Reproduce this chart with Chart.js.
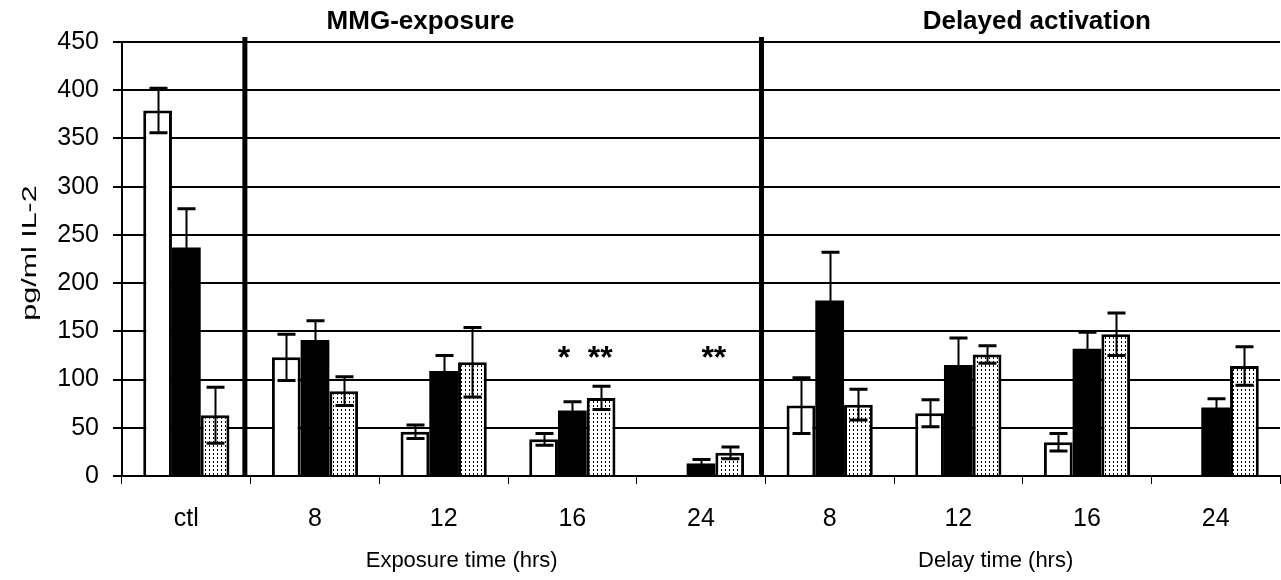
<!DOCTYPE html>
<html>
<head>
<meta charset="utf-8">
<script src="https://cdn.jsdelivr.net/npm/chart.js@4.4.1/dist/chart.umd.min.js"></script>
<style>
  html, body { margin: 0; padding: 0; background: #fff; }
  #wrap { width: 1281px; height: 580px; }
</style>
</head>
<body>
<div id="wrap"><canvas id="il2Chart" width="1281" height="580"></canvas></div>
<script>
// ===== DATA =====
const categories = ["ctl", "8", "12", "16", "24", "8", "12", "16", "24"]
const whiteVals  = [379, 123, 46, 38, null, 73, 65, 35, null]
const whiteErr   = [23, 24, 7, 6, 0, 29, 14, 9, 0]
const blackVals  = [237, 141, 109, 68, 13, 182, 115, 132, 71]
const blackErr   = [40, 20, 16, 9, 4, 50, 28, 17, 9]
const dotVals    = [63, 88, 118, 81, 24, 74, 126, 147, 114]
const dotErr     = [29, 15, 36, 12, 6, 16, 9, 22, 20]
const sigText    = ["", "", "", "*  **", "**", "", "", "", ""]
const sigLevel   = 128
const yMin = 0, yMax = 450, yStep = 50

const groupTitles    = ["MMG-exposure", "Delayed activation"]
const groupAxisNames = ["Exposure time (hrs)", "Delay time (hrs)"]

// ===== LAYOUT (category units) =====
const sepAt        = [0.455, 4.47]
const groupTitleAt = [1.82, 6.61]
const groupNameAt  = [2.14, 6.29]
const FONT = "'Liberation Sans', Arial, sans-serif"

// ===== DOT PATTERN =====
function makeDots() {
  const c = document.createElement("canvas")
  c.width = 4; c.height = 4
  const g = c.getContext("2d")
  g.fillStyle = "#fff"
  g.fillRect(0, 0, 4, 4)
  g.fillStyle = "#000"
  g.fillRect(1, 1, 1, 2)
  return g.createPattern(c, "repeat")
}

// ===== ERROR BARS =====
const errorBars = {
  id: "errorBars",
  afterDatasetsDraw(chart) {
    const { ctx, scales: { y } } = chart
    const errs = [whiteErr, blackErr, dotErr]
    ctx.save()
    ctx.strokeStyle = "#000"
    chart.data.datasets.forEach((ds, di) => {
      chart.getDatasetMeta(di).data.forEach((bar, i) => {
        const v = ds.data[i]
        if (v == null) return
        const e = errs[di][i]
        const top = y.getPixelForValue(v + e)
        const bot = y.getPixelForValue(v - e)
        const x = Math.round(bar.x) + 0.5
        ctx.lineWidth = 2
        ctx.beginPath()
        ctx.moveTo(x, top); ctx.lineTo(x, bot)
        ctx.stroke()
        ctx.lineWidth = 3
        ctx.beginPath()
        ctx.moveTo(x - 9, top); ctx.lineTo(x + 9, top)
        ctx.moveTo(x - 9, bot); ctx.lineTo(x + 9, bot)
        ctx.stroke()
      })
    })
    ctx.restore()
  }
}

// ===== DECORATION =====
const decor = {
  id: "decor",
  afterDraw(chart) {
    const { ctx, chartArea, scales: { x, y } } = chart
    ctx.save()

    // separators
    ctx.strokeStyle = "#000"
    ctx.lineWidth = 5
    sepAt.forEach(p => {
      const px = x.getPixelForValue(p)
      ctx.beginPath()
      ctx.moveTo(px, chartArea.top - 5)
      ctx.lineTo(px, chartArea.bottom)
      ctx.stroke()
    })

    ctx.fillStyle = "#000"
    ctx.textAlign = "center"
    ctx.textBaseline = "middle"

    // group titles
    ctx.font = `bold 26px ${FONT}`
    groupTitles.forEach((t, i) => ctx.fillText(t, x.getPixelForValue(groupTitleAt[i]), 22))

    // group axis names
    ctx.font = `22px ${FONT}`
    groupAxisNames.forEach((t, i) => ctx.fillText(t, x.getPixelForValue(groupNameAt[i]), 561))

    // significance marks
    ctx.font = `bold 32px ${FONT}`
    sigText.forEach((t, i) => {
      if (!t) return
      ctx.fillText(t, x.getPixelForValue(i + 0.1), y.getPixelForValue(sigLevel) + 7)
    })

    // y title
    ctx.translate(30, 253)
    ctx.rotate(-Math.PI / 2)
    ctx.scale(1.45, 1)
    ctx.font = `21px ${FONT}`
    ctx.fillText("pg/ml IL-2", 0, 0)

    ctx.restore()
  }
}

// ===== CHART =====
const dots = makeDots()

new Chart(document.getElementById("il2Chart"), {
  type: "bar",
  data: {
    labels: categories,
    datasets: [
      { data: whiteVals, backgroundColor: "#fff", borderColor: "#000", borderWidth: 3 },
      { data: blackVals, backgroundColor: "#000", borderColor: "#000", borderWidth: 0 },
      { data: dotVals,   backgroundColor: dots,   borderColor: "#000", borderWidth: 3 }
    ]
  },
  options: {
    responsive: false,
    animation: false,
    layout: { padding: { top: 42, right: 1, left: 0, bottom: 0 } },
    datasets: { bar: { categoryPercentage: 0.67, barPercentage: 1.0 } },
    plugins: { legend: { display: false }, tooltip: { enabled: false } },
    scales: {
      x: {
        afterFit: s => { s.height = 104 },
        grid: { offset: true, drawOnChartArea: false, drawTicks: true, tickLength: 8, color: "#000", lineWidth: 1 },
        border: { display: true, color: "#000", width: 2 },
        ticks: { color: "#000", padding: 20, font: { family: FONT, size: 25 }, maxRotation: 0 }
      },
      y: {
        min: yMin, max: yMax,
        afterFit: s => { s.width = 122 },
        grid: { color: "#000", lineWidth: 2, tickLength: 9 },
        border: { display: true, color: "#000", width: 2 },
        ticks: { stepSize: yStep, color: "#000", padding: 14, font: { family: FONT, size: 25 } }
      }
    }
  },
  plugins: [errorBars, decor]
})
</script>
</body>
</html>
